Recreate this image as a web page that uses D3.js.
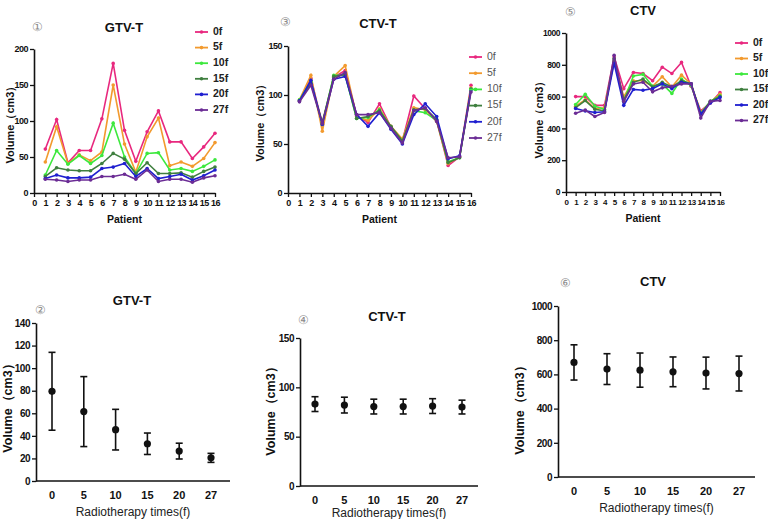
<!DOCTYPE html>
<html>
<head>
<meta charset="utf-8">
<script src="https://cdn.jsdelivr.net/npm/d3@7"></script>
<style>
body { margin: 0; background: #fff; }
text { font-family: "Liberation Sans", Arial, sans-serif; }
</style>
</head>
<body>
<script>
// values
var patients = d3.range(1, 17);
var fractions = ["0f", "5f", "10f", "15f", "20f", "27f"];
var colors = ["#e8287e", "#f29a2e", "#3de83d", "#3f7f3f", "#1f1fd0", "#6b2c95"];

var gtvT = [
  [61, 102, 42, 59, 59, 103, 180, 87, 44, 85, 114, 71, 71, 48, 64, 83],
  [43, 92, 41, 53, 45, 57, 150, 68, 29, 78, 104, 38, 43, 37, 48, 70],
  [25, 59, 40, 52, 41, 52, 97, 50, 27, 55, 56, 32, 34, 30, 37, 46],
  [23, 35, 32, 31, 31, 41, 55, 47, 27, 42, 27, 27, 28, 22, 30, 36],
  [20, 25, 21, 21, 22, 34, 36, 41, 23, 34, 20, 23, 26, 18, 24, 32],
  [19, 18, 16, 18, 18, 23, 23, 26, 19, 32, 16, 19, 19, 15, 21, 24]
];
var ctvT = [
  [94, 117, 71, 118, 125, 79, 72, 91, 67, 53, 99, 86, 74, 28, 37, 110],
  [95, 120, 63, 119, 130, 78, 74, 86, 68, 55, 87, 85, 73, 30, 37, 107],
  [95, 114, 70, 120, 120, 76, 77, 85, 67, 53, 84, 82, 74, 32, 36, 106],
  [94, 112, 72, 119, 121, 76, 78, 84, 68, 53, 85, 86, 75, 31, 36, 106],
  [94, 115, 70, 116, 119, 80, 68, 82, 65, 50, 80, 91, 78, 35, 38, 105],
  [93, 110, 71, 116, 123, 80, 80, 82, 66, 51, 84, 87, 73, 36, 37, 103]
];
var ctv = [
  [600, 600, 545, 545, 850, 650, 752, 745, 700, 785, 745, 815, 665, 510, 560, 625],
  [540, 580, 525, 530, 820, 600, 700, 700, 665, 725, 660, 735, 680, 500, 565, 615],
  [550, 615, 540, 520, 830, 570, 730, 740, 665, 680, 620, 710, 670, 495, 570, 605],
  [530, 575, 520, 510, 840, 580, 690, 710, 660, 690, 660, 700, 680, 490, 570, 600],
  [525, 510, 500, 505, 810, 545, 645, 640, 650, 680, 650, 690, 680, 490, 560, 595],
  [495, 515, 475, 500, 860, 570, 680, 690, 630, 655, 665, 680, 680, 465, 570, 575]
];

var times = ["0", "5", "10", "15", "20", "27"];
var gtvTMean = [79.5, 61.5, 45.5, 33, 26.5, 20.5];
var gtvTSd = [34.5, 31, 18, 9.5, 7, 4];
var ctvTMean = [83, 82, 80.5, 80.5, 81, 80];
var ctvTSd = [7.5, 8, 7.5, 7.5, 7.5, 7];
var ctvMean = [670, 631, 625, 615, 608, 605];
var ctvSd = [103, 90, 100, 87, 93, 102];

var svg = d3.select("body").append("svg")
  .attr("width", 768).attr("height", 519);

var volLabel = "Volume\uff08cm3\uff09";

function styleAxis(g, fs) {
  g.select(".domain").attr("stroke", "#111").attr("stroke-width", 1.6);
  g.selectAll(".tick line").attr("stroke", "#111").attr("stroke-width", 1.3);
  g.selectAll(".tick text").attr("fill", "#111").attr("font-weight", "bold")
    .attr("font-size", fs);
}

function addNum(c) {
  svg.append("text")
    .attr("x", c.nx).attr("y", c.ny)
    .attr("text-anchor", "middle").attr("dominant-baseline", "central")
    .attr("font-family", "DejaVu Sans").attr("font-size", 12).attr("fill", "#8a8a8a")
    .text(c.num);
}

//patient line panels
function linePanel(c) {
  var x = d3.scaleLinear().domain([0, 16]).range([c.x0, c.x1]);
  var y = d3.scaleLinear().domain([0, c.ymax]).range([c.y0, c.y1]);

  var line = d3.line()
    .x(function(d, i){ return x(patients[i]); })
    .y(function(d){ return y(d); });

  c.data.forEach(function(s, k){
    svg.append("path").datum(s)
      .attr("d", line)
      .attr("fill", "none")
      .attr("stroke", colors[k])
      .attr("stroke-width", 1.6);
    svg.selectAll(null).data(s).enter().append("circle")
      .attr("cx", function(d, i){ return x(patients[i]); })
      .attr("cy", function(d){ return y(d); })
      .attr("r", 1.8)
      .attr("fill", colors[k]);
  });

  var gx = svg.append("g").attr("transform", "translate(0," + c.y0 + ")")
    .call(d3.axisBottom(x).ticks(16).tickSize(4).tickPadding(3).tickSizeOuter(0));
  styleAxis(gx, c.xfs);
  gx.selectAll(".tick text").attr("letter-spacing", -0.6);

  var gy = svg.append("g").attr("transform", "translate(" + c.x0 + ",0)")
    .call(d3.axisLeft(y).tickValues(c.yticks).tickFormat(d3.format("d"))
      .tickSize(4).tickPadding(2).tickSizeOuter(0));
  styleAxis(gy, c.yfs);
  gy.selectAll(".tick text").attr("letter-spacing", -0.5);

  svg.append("text")
    .attr("x", (c.x0 + c.x1) / 2).attr("y", c.y0 + 30)
    .attr("text-anchor", "middle").attr("font-size", 10.5).attr("font-weight", "bold")
    .attr("fill", "#111").text("Patient");

  svg.append("text")
    .attr("transform", "translate(" + c.ylx + "," + c.yly + ") rotate(-90)")
    .attr("text-anchor", "middle").attr("dominant-baseline", "middle")
    .attr("font-size", 11).attr("font-weight", "bold").attr("fill", "#111")
    .text(volLabel);

  svg.append("text")
    .attr("x", c.tx).attr("y", c.ty)
    .attr("text-anchor", "middle").attr("font-size", 13).attr("font-weight", "bold")
    .attr("fill", "#111").text(c.title);

  addNum(c);

  var lg = svg.append("g");
  fractions.forEach(function(f, k){
    var yy = c.ly + k * c.lstep;
    lg.append("line")
      .attr("x1", c.lx).attr("x2", c.lx + 13).attr("y1", yy).attr("y2", yy)
      .attr("stroke", colors[k]).attr("stroke-width", 1.8);
    lg.append("circle").attr("cx", c.lx + 6.5).attr("cy", yy).attr("r", 1.8)
      .attr("fill", colors[k]);
    lg.append("text").attr("x", c.lx + 18).attr("y", yy)
      .attr("dominant-baseline", "middle").attr("font-size", 10.5)
      .attr("font-weight", c.lbold ? "bold" : "normal")
      .attr("fill", c.lbold ? "#222" : "#555").text(f);
  });
}

//mean and SD panels
function errPanel(c) {
  var x = d3.scalePoint().domain(times).range([c.cx0, c.cx1]);
  var y = d3.scaleLinear().domain([0, c.ymax]).range([c.y0, c.y1]);

  var g = svg.append("g");
  c.mean.forEach(function(m, i){
    var xx = x(times[i]), lo = y(m - c.sd[i]), hi = y(m + c.sd[i]);
    g.append("line").attr("x1", xx).attr("x2", xx).attr("y1", lo).attr("y2", hi)
      .attr("stroke", "#111").attr("stroke-width", 1.6);
    [lo, hi].forEach(function(v){
      g.append("line").attr("x1", xx - 3.5).attr("x2", xx + 3.5).attr("y1", v).attr("y2", v)
        .attr("stroke", "#111").attr("stroke-width", 1.6);
    });
    g.append("circle").attr("cx", xx).attr("cy", y(m)).attr("r", 3.6).attr("fill", "#111");
  });

  svg.append("line")
    .attr("x1", c.x0).attr("x2", c.x1).attr("y1", c.y0).attr("y2", c.y0)
    .attr("stroke", "#111").attr("stroke-width", 1.6);
  g.selectAll(null).data(times).enter().append("text")
    .attr("x", function(d){ return x(d); }).attr("y", c.y0 + 18)
    .attr("text-anchor", "middle").attr("font-size", 11).attr("font-weight", "bold")
    .attr("fill", "#111").text(function(d){ return d; });

  var gy = svg.append("g").attr("transform", "translate(" + c.x0 + ",0)")
    .call(d3.axisLeft(y).tickValues(c.yticks).tickFormat(d3.format("d"))
      .tickSize(4).tickPadding(2).tickSizeOuter(0));
  styleAxis(gy, 10);
  gy.selectAll(".tick text").attr("letter-spacing", -0.5);

  svg.append("text")
    .attr("x", (c.x0 + c.x1) / 2).attr("y", c.xly)
    .attr("text-anchor", "middle").attr("font-size", 12)
    .attr("fill", "#222").text("Radiotherapy times(f)");

  svg.append("text")
    .attr("transform", "translate(" + c.ylx + "," + c.yly + ") rotate(-90)")
    .attr("text-anchor", "middle").attr("dominant-baseline", "middle")
    .attr("font-size", 12.5).attr("font-weight", "bold").attr("fill", "#111")
    .text(volLabel);

  svg.append("text")
    .attr("x", c.tx).attr("y", c.ty)
    .attr("text-anchor", "middle").attr("dominant-baseline", "middle")
    .attr("font-size", 13).attr("font-weight", "bold")
    .attr("fill", "#111").text(c.title);

  addNum(c);
}

linePanel({ data: gtvT, x0: 34, x1: 215, y0: 193, y1: 49, ymax: 200,
  yticks: [0, 50, 100, 150, 200], xfs: 9, yfs: 9,
  ylx: 11, yly: 122, tx: 124, ty: 32, title: "GTV-T", nx: 37, ny: 27, num: "\u2460",
  lx: 195, ly: 32, lstep: 15.6, lbold: true });

linePanel({ data: ctvT, x0: 288, x1: 471, y0: 193, y1: 46, ymax: 150,
  yticks: [0, 50, 100, 150], xfs: 9, yfs: 9,
  ylx: 261, yly: 120, tx: 378, ty: 28, title: "CTV-T", nx: 285, ny: 22, num: "\u2462",
  lx: 469, ly: 57, lstep: 16.2, lbold: false });

linePanel({ data: ctv, x0: 566, x1: 720, y0: 192, y1: 33, ymax: 1000,
  yticks: [0, 200, 400, 600, 800, 1000], xfs: 8, yfs: 8.5,
  ylx: 540, yly: 117, tx: 643, ty: 15, title: "CTV", nx: 570, ny: 12, num: "\u2464",
  lx: 735, ly: 43, lstep: 15.5, lbold: true });

errPanel({ mean: gtvTMean, sd: gtvTSd, x0: 36, x1: 230, cx0: 52, cx1: 211,
  y0: 481, y1: 323, ymax: 140, yticks: d3.range(0, 141, 20),
  xly: 516, ylx: 9, yly: 405, tx: 132, ty: 302, title: "GTV-T", nx: 40, ny: 310, num: "\u2461" });

errPanel({ mean: ctvTMean, sd: ctvTSd, x0: 300, x1: 478, cx0: 315, cx1: 462,
  y0: 486, y1: 338, ymax: 150, yticks: [0, 50, 100, 150],
  xly: 517, ylx: 272, yly: 408, tx: 387, ty: 318, title: "CTV-T", nx: 303, ny: 320, num: "\u2463" });

errPanel({ mean: ctvMean, sd: ctvSd, x0: 558, x1: 755, cx0: 574, cx1: 739,
  y0: 477, y1: 306, ymax: 1000, yticks: d3.range(0, 1001, 200),
  xly: 512, ylx: 521, yly: 407, tx: 653, ty: 283, title: "CTV", nx: 565, ny: 283, num: "\u2465" });
</script>
</body>
</html>
